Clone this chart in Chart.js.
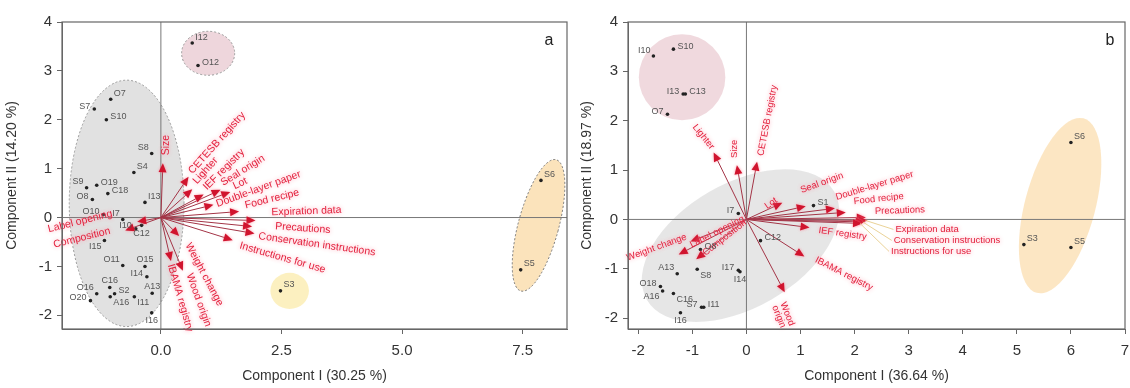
<!DOCTYPE html>
<html>
<head>
<meta charset="utf-8">
<script src="https://cdn.jsdelivr.net/npm/chart.js@4.4.1/dist/chart.umd.min.js"></script>
<style>
  body { margin: 0; background: #fff; }
  #wrap { position: relative; width: 1130px; height: 388px; }
  #chartA { position: absolute; left: 0; top: 0; width: 575px; height: 388px; }
  #chartB { position: absolute; left: 575px; top: 0; width: 555px; height: 388px; }
</style>
</head>
<body>
<div id="wrap">
  <canvas id="chartA" width="575" height="388"></canvas>
  <canvas id="chartB" width="555" height="388"></canvas>
</div>
<script>
// ---- Panel a: muestras (scores) ----
const samplesA = ['I12','O12','O7','S7','S10','S8','S4','S9','O19','O8','C18','I13','O10','I7','I10','C12','I15','O11','O15','I14','C16','O16','A13','S2','O20','A16','I11','I16','S3','S6','S5'];
const sampleXA = [0.65,0.77,-1.04,-1.38,-1.13,-0.19,-0.56,-1.54,-1.33,-1.42,-1.1,-0.33,-1.19,-0.79,-0.52,-0.4,-1.17,-0.79,-0.33,-0.29,-1.06,-1.33,-0.18,-0.96,-1.46,-1.05,-0.55,-0.19,2.48,7.88,7.46];
const sampleYA = [3.57,3.11,2.42,2.22,2.0,1.31,0.92,0.61,0.66,0.37,0.49,0.31,0.06,-0.04,-0.23,-0.16,-0.47,-0.98,-1.0,-1.21,-1.43,-1.56,-1.55,-1.56,-1.7,-1.62,-1.62,-1.95,-1.5,0.76,-1.07];

// ---- Panel a: variables (loadings) ----
const varsA = ['Size','CETESB registry','Lighter','IEF registry','Seal origin','Lot','Double-layer paper','Food recipe','Expiration data','Precautions','Conservation instructions','Instructions for use','IBAMA registry','Weight change','Wood origin','Label opening','Composition'];
const loadXA = [0.04,0.55,0.62,0.85,1.2,1.4,1.05,1.58,1.92,1.85,1.9,1.45,0.2,0.35,0.44,-0.45,-0.7];
const loadYA = [1.07,0.8,0.55,0.45,0.55,0.51,0.25,0.12,-0.06,-0.18,-0.32,-0.45,-0.85,-0.35,-1.05,-0.08,-0.25];

// ---- Panel a: grupos (elipses) ----
const groupCxA = [-0.71, 0.98, 2.67, 7.83];
const groupCyA = [0.29, 3.36, -1.5, -0.16];
const groupRxA = [1.19, 0.55, 0.4, 0.42];
const groupRyA = [2.52, 0.45, 0.37, 1.39];
const groupAngA = [0, 0, 0, 15];

// ---- Panel b: muestras ----
const samplesB = ['I10','S10','I13','C13','O7','I7','O8','A13','S8','I17','I14','O18','A16','C16','S7','I11','I16','C12','S1','S6','S3','S5'];
const sampleXB = [-1.72,-1.35,-1.17,-1.13,-1.46,-0.15,-0.85,-1.28,-0.91,-0.15,-0.12,-1.59,-1.55,-1.35,-0.83,-0.79,-1.22,0.26,1.24,6.0,5.13,6.0];
const sampleYB = [3.31,3.45,2.54,2.54,2.13,0.12,-0.61,-1.1,-1.01,-1.03,-1.06,-1.36,-1.45,-1.5,-1.78,-1.78,-1.89,-0.43,0.28,1.56,-0.51,-0.57];

// ---- Panel b: variables ----
const varsB = ['Lighter','Size','CETESB registry','Lot','Seal origin','Double-layer paper','Food recipe','Precautions','Expiration data','Conservation instructions','Instructions for use','IEF registry','IBAMA registry','Wood origin','Weight change','Label opening','Composition'];
const loadXB = [-0.59,-0.17,0.19,0.63,1.06,1.6,1.8,2.17,2.2,2.15,2.1,1.13,1.04,0.69,-1.0,-1.22,-0.9];
const loadYB = [1.32,1.06,1.13,0.32,0.26,0.22,0.14,0.04,-0.02,-0.05,-0.08,-0.16,-0.73,-1.44,-0.43,-0.69,-0.78];

// ---- Panel b: grupos ----
const groupCxB = [-0.11, -1.19, 5.8];
const groupCyB = [-0.53, 2.88, 0.28];
const groupRxB = [2.0, 0.8, 0.65];
const groupRyB = [1.26, 0.87, 1.83];
const groupAngB = [-30, 0, 15];

// ---- Ticks ----
const ticksXA = [0, 2.5, 5, 7.5];
const ticksYA = [-2, -1, 0, 1, 2, 3, 4];
const ticksXB = [-2, -1, 0, 1, 2, 3, 4, 5, 6, 7];
const ticksYB = [-2, -1, 0, 1, 2, 3, 4];

// ---- Estilos (posiciones de etiquetas, colores) ----
const FONT = "'Liberation Sans', Arial, sans-serif";
const OFFS = {
  r: [4, -3, 'left'], l: [-4, -3, 'right'], ru: [3, -6, 'left'], lu: [-3, -6, 'right'],
  rb: [3, 6, 'left'], lb: [-3, 6, 'right'], a: [0, -7, 'center'], b: [0, 8, 'center']
};
const labelPosA = ['ru','r','ru','l','r','lu','ru','lu','r','l','r','ru','l','lu','l','b','lb','lu','a','l','a','lu','a','r','l','rb','rb','b','ru','ru','ru'];
const labelPosB = ['lu','r','l','r','l','l','r','lu','rb','l','b','l','lb','rb','l','r','b','r','r','ru','ru','ru'];

// [dx, dy, rotación, alineación, extra]
const arrowStyleA = [
  [3,-10,-90,'left'], [3,-6,-48,'left'], [4,-8,-48,'left'], [3,-7,-45,'left'],
  [3,-7,-32,'left'], [5,-6,-25,'left'], [5,-1,-20,'left'], [8,-6,-14,'left'],
  [18,-8,-2,'left'], [25,0,4,'left'], [6,3,8,'left'], [9,6,16,'left'],
  [0,5,74,'left'], [10,9,62,'left'], [7,5,70,'left'],
  [-27,-8,-14,'right'], [-17,1,-14,'right']
];
const arrowStyleB = [
  [-2,-6,51,'right'], [-3,-9,-90,'left'], [4,-8,-79,'left'], [-4,-4,-35,'right'],
  [-3,-16,-20,'left'], [3,-11,-17,'left'], [10,-11,-6,'left'], [11,-6,-2,'left'],
  [30,9,0,'left','leader'], [31,18.5,0,'left','leader'], [31,28,0,'left','leader'],
  [11,3,8,'left'], [13,4,27,'left'], [-1,12,68,'left','wrap'],
  [-6,-4,-20,'right'], [10,-8,-27,'left'], [6,-4,-38,'left']
];
const groupStyleA = [
  { fill: 'rgba(200,200,200,0.55)', stroke: '#999' },
  { fill: 'rgba(232,200,208,0.75)', stroke: '#999' },
  { fill: 'rgba(252,238,185,0.9)', stroke: null },
  { fill: 'rgba(250,222,175,0.85)', stroke: '#777' }
];
const groupStyleB = [
  { fill: 'rgba(210,210,210,0.55)', stroke: null },
  { fill: 'rgba(236,208,214,0.8)', stroke: null },
  { fill: 'rgba(252,226,185,0.85)', stroke: null }
];

function drawText(ctx, text, x, y, rot, align) {
  ctx.save();
  ctx.translate(x, y);
  ctx.rotate(rot * Math.PI / 180);
  ctx.textAlign = align;
  ctx.textBaseline = 'middle';
  text.split('\n').forEach((line, k) => ctx.fillText(line, 0, k * 9));
  ctx.restore();
}

// Plugin que dibuja elipses, ejes cero, flechas y etiquetas
function makePlugin(o) {
  return {
    id: 'biplot',
    beforeDatasetsDraw(chart) {
      const { ctx, chartArea: a, scales: { x, y } } = chart;
      ctx.save();
      ctx.beginPath();
      ctx.rect(a.left, a.top, a.width, a.height);
      ctx.clip();
      o.gcx.forEach((gx, i) => {
        const cx = x.getPixelForValue(gx), cy = y.getPixelForValue(o.gcy[i]);
        const rx = Math.abs(x.getPixelForValue(gx + o.grx[i]) - cx);
        const ry = Math.abs(y.getPixelForValue(o.gcy[i] + o.gry[i]) - cy);
        ctx.beginPath();
        ctx.ellipse(cx, cy, rx, ry, o.gang[i] * Math.PI / 180, 0, 2 * Math.PI);
        ctx.fillStyle = o.gstyle[i].fill;
        ctx.fill();
        if (o.gstyle[i].stroke) {
          ctx.setLineDash([2, 2]);
          ctx.strokeStyle = o.gstyle[i].stroke;
          ctx.lineWidth = 1;
          ctx.stroke();
          ctx.setLineDash([]);
        }
      });
      // líneas en cero
      const x0 = x.getPixelForValue(0), y0 = y.getPixelForValue(0);
      ctx.strokeStyle = '#777';
      ctx.lineWidth = 1;
      ctx.beginPath();
      ctx.moveTo(x0, a.top); ctx.lineTo(x0, a.bottom);
      ctx.moveTo(a.left, y0); ctx.lineTo(a.right, y0);
      ctx.stroke();
      ctx.restore();
    },
    afterDatasetsDraw(chart) {
      const ctx = chart.ctx;
      ctx.save();
      // puntas y etiquetas de flechas
      o.vars.forEach((name, i) => {
        const meta = chart.getDatasetMeta(i + 1);
        const p0 = meta.data[0], p1 = meta.data[1];
        const ang = Math.atan2(p1.y - p0.y, p1.x - p0.x);
        ctx.save();
        ctx.translate(p1.x, p1.y);
        ctx.rotate(ang);
        ctx.beginPath();
        ctx.moveTo(2, 0); ctx.lineTo(-7, -4); ctx.lineTo(-7, 4); ctx.closePath();
        ctx.fillStyle = '#d0142e';
        ctx.shadowColor = 'rgba(255,120,140,0.8)';
        ctx.shadowBlur = 3;
        ctx.fill();
        ctx.restore();

        const st = o.astyle[i];
        const tx = p1.x + st[0], ty = p1.y + st[1];
        if (st[4] === 'leader') {
          ctx.strokeStyle = 'rgba(232,205,140,0.9)';
          ctx.lineWidth = 1;
          ctx.beginPath();
          ctx.moveTo(p1.x, p1.y); ctx.lineTo(tx - 2, ty);
          ctx.stroke();
        }
        const text = st[4] === 'wrap' ? name.replace(' ', '\n') : name;
        ctx.font = o.arrowFont + 'px ' + FONT;
        ctx.fillStyle = '#e3223e';
        ctx.shadowColor = 'rgba(255,150,170,0.9)';
        ctx.shadowBlur = 4;
        drawText(ctx, text, tx, ty, st[2], st[3]);
        ctx.shadowBlur = 0;
      });
      // etiquetas de muestras
      const pm = chart.getDatasetMeta(0);
      ctx.font = '9px ' + FONT;
      ctx.fillStyle = '#555';
      o.names.forEach((n, i) => {
        const el = pm.data[i];
        const off = OFFS[o.lpos[i]];
        ctx.textAlign = off[2];
        ctx.textBaseline = 'middle';
        ctx.fillText(n, el.x + off[0], el.y + off[1]);
      });
      ctx.restore();
    },
    afterDraw(chart) {
      const { ctx, chartArea: a } = chart;
      ctx.save();
      ctx.strokeStyle = '#666';
      ctx.lineWidth = 1.2;
      ctx.strokeRect(a.left, a.top, a.right - a.left, a.bottom - a.top);
      ctx.font = '16px ' + FONT;
      ctx.fillStyle = '#222';
      ctx.textAlign = 'center';
      ctx.textBaseline = 'middle';
      ctx.fillText(o.letter, a.right - o.letterDx, a.top + 19);
      ctx.restore();
    }
  };
}

function makeAxis(min, max, ticks, fmt, title, horizontal, size) {
  return {
    type: 'linear', min, max,
    afterBuildTicks: s => { s.ticks = ticks.map(v => ({ value: v })); },
    afterFit: s => {
      if (horizontal) { s.height = size; s.paddingLeft = 0; s.paddingRight = 0; }
      else { s.width = size; s.paddingTop = 0; s.paddingBottom = 0; }
    },
    ticks: { color: '#333', font: { family: FONT, size: 15 }, padding: horizontal ? 8 : 5, callback: fmt },
    grid: { drawOnChartArea: false, drawTicks: true, tickLength: 5, color: '#666' },
    border: { color: '#666' },
    title: {
      display: true, text: title, color: '#333', font: { family: FONT, size: 14 },
      padding: horizontal ? { top: 0, bottom: 3 } : { top: 4, bottom: 0 }
    }
  };
}

function makeBiplot(canvasId, o) {
  const datasets = [{
    data: o.sx.map((v, i) => ({ x: v, y: o.sy[i] })),
    pointRadius: 1.8, pointBackgroundColor: '#222', pointBorderWidth: 0, showLine: false
  }];
  o.vars.forEach((v, i) => {
    datasets.push({
      data: [{ x: 0, y: 0 }, { x: o.lx[i], y: o.ly[i] }],
      showLine: true, borderColor: '#a33446', borderWidth: 1, pointRadius: 0
    });
  });
  return new Chart(document.getElementById(canvasId), {
    type: 'scatter',
    data: { datasets },
    options: {
      responsive: false,
      animation: false,
      layout: { padding: { top: 22, right: o.padRight, left: 0, bottom: 0 } },
      plugins: { legend: { display: false }, tooltip: { enabled: false } },
      scales: {
        x: makeAxis(o.xmin, o.xmax, o.tx, o.fx, o.xtitle, true, 59),
        y: makeAxis(o.ymin, o.ymax, o.ty, v => v, o.ytitle, false, o.yWidth)
      }
    },
    plugins: [makePlugin(o)]
  });
}

makeBiplot('chartA', {
  names: samplesA, sx: sampleXA, sy: sampleYA, lpos: labelPosA,
  vars: varsA, lx: loadXA, ly: loadYA, astyle: arrowStyleA, arrowFont: 10.5,
  gcx: groupCxA, gcy: groupCyA, grx: groupRxA, gry: groupRyA, gang: groupAngA, gstyle: groupStyleA,
  xmin: -2.05, xmax: 8.42, ymin: -2.28, ymax: 4.0,
  tx: ticksXA, ty: ticksYA, fx: v => v.toFixed(1),
  xtitle: 'Component I (30.25 %)', ytitle: 'Component II (14.20 %)',
  yWidth: 62, padRight: 8, letter: 'a', letterDx: 18
});

makeBiplot('chartB', {
  names: samplesB, sx: sampleXB, sy: sampleYB, lpos: labelPosB,
  vars: varsB, lx: loadXB, ly: loadYB, astyle: arrowStyleB, arrowFont: 9.5,
  gcx: groupCxB, gcy: groupCyB, grx: groupRxB, gry: groupRyB, gang: groupAngB, gstyle: groupStyleB,
  xmin: -2.19, xmax: 7.0, ymin: -2.22, ymax: 4.0,
  tx: ticksXB, ty: ticksYB, fx: v => v,
  xtitle: 'Component I (36.64 %)', ytitle: 'Component II (18.97 %)',
  yWidth: 53, padRight: 5, letter: 'b', letterDx: 15
});
</script>
</body>
</html>
